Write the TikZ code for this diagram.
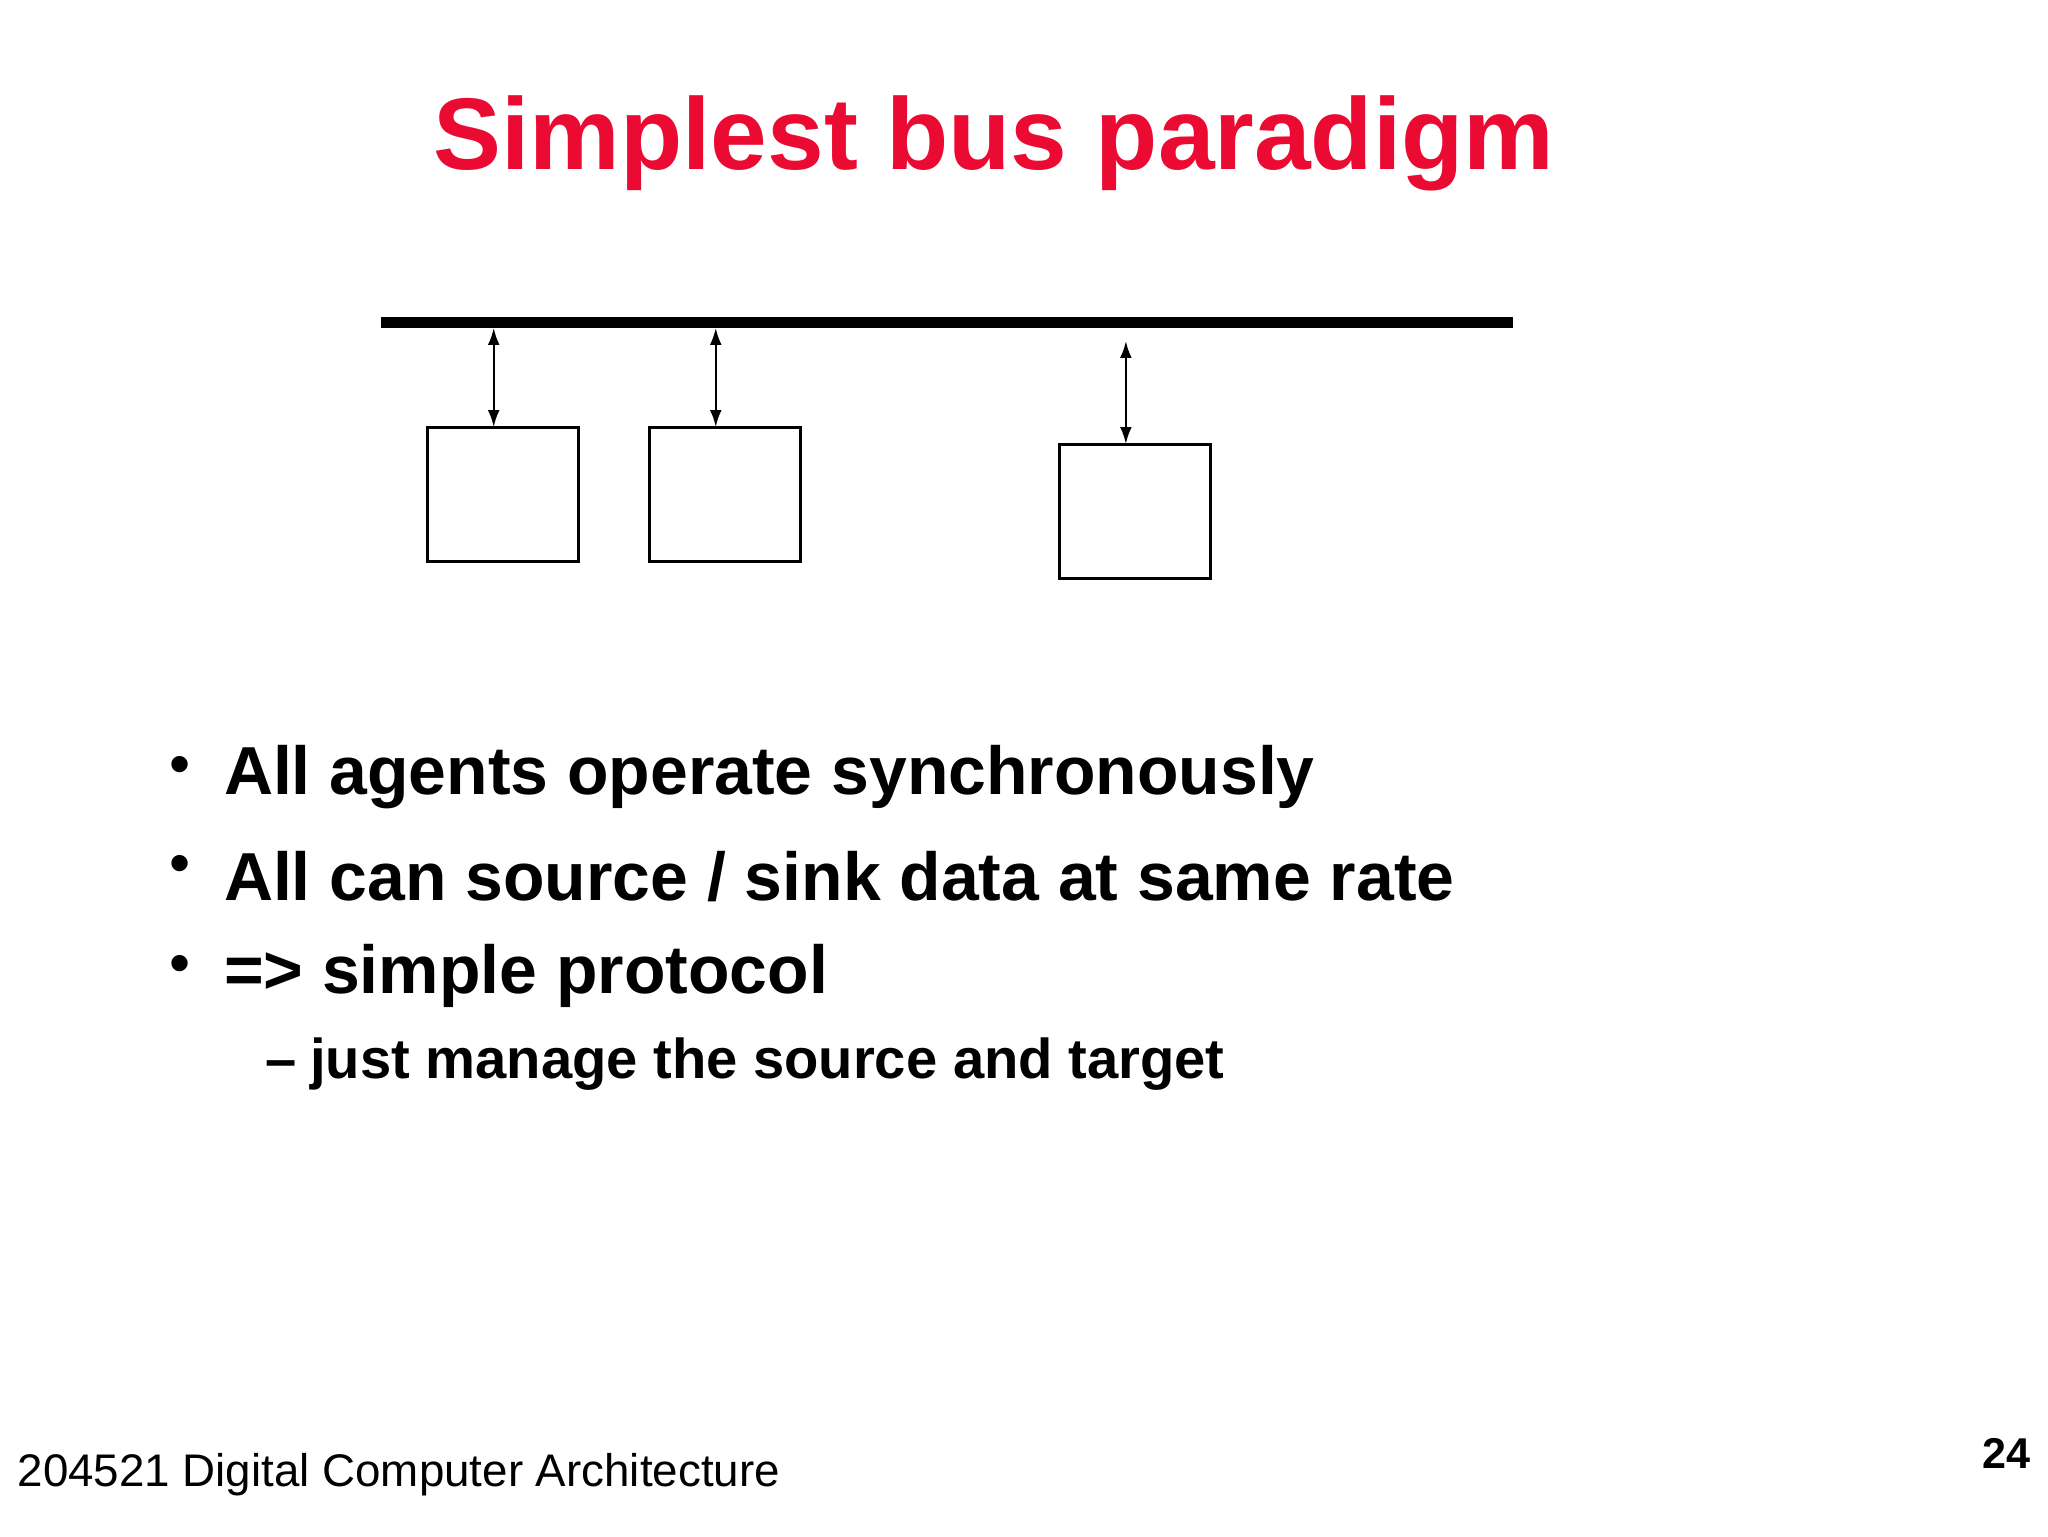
\documentclass[tikz,border=0pt]{standalone}
\usepackage{fontspec}
\setmainfont{Liberation Sans}
\usetikzlibrary{arrows.meta}
\begin{document}
\begin{tikzpicture}[x=1pt,y=-1pt,
  agent/.style={draw,line width=2.2pt},
  link/.style={line width=1.8pt,{Latex[length=13pt,width=9pt]}-{Latex[length=13pt,width=9pt]}},
  bul/.style={anchor=west,font=\bfseries\fontsize{52}{56}\selectfont},
  dot/.style={font=\fontsize{46}{50}\selectfont}]
\useasboundingbox (0,0) rectangle (1568,1176);
\node[font=\bfseries\fontsize{78}{86}\selectfont,text={rgb,255:red,235;green,10;blue,50}] (title) at (761,110) {Simplest bus paradigm};
\draw[line width=9pt] (292,247) coordinate (busL) -- (1158,247) coordinate (busR);
\draw[agent] (327,327) rectangle (443,430);
\draw[agent] (497,327) rectangle (613,430);
\draw[agent] (811,340) rectangle (927,443);
\coordinate (a1t) at (378,251); \coordinate (a1b) at (378,327);
\coordinate (a2t) at (548,251); \coordinate (a2b) at (548,327);
\coordinate (a3t) at (862,261); \coordinate (a3b) at (862,340);
\draw[link] (a1t) -- (a1b);
\draw[link] (a2t) -- (a2b);
\draw[link] (a3t) -- (a3b);
\node[dot] (d1) at (138,590) {•};
\node[dot] (d2) at (138,666) {•};
\node[dot] (d3) at (138,742) {•};
\node[bul] (b1) at (168,595) {All agents operate synchronously};
\node[bul] (b2) at (168,671) {All can source / sink data at same rate};
\node[bul] (b3) at (168,747) {=> simple protocol};
\node[anchor=west,font=\bfseries\fontsize{43}{48}\selectfont] (s1) at (200,815) {–\hspace{10pt}just manage the source and target};
\node[anchor=west,font=\fontsize{35}{40}\selectfont] (f) at (10,1129) {204521 Digital Computer Architecture};
\node[anchor=east,font=\bfseries\fontsize{33}{38}\selectfont] (n) at (1558,1113) {24};
\end{tikzpicture}
\end{document}
